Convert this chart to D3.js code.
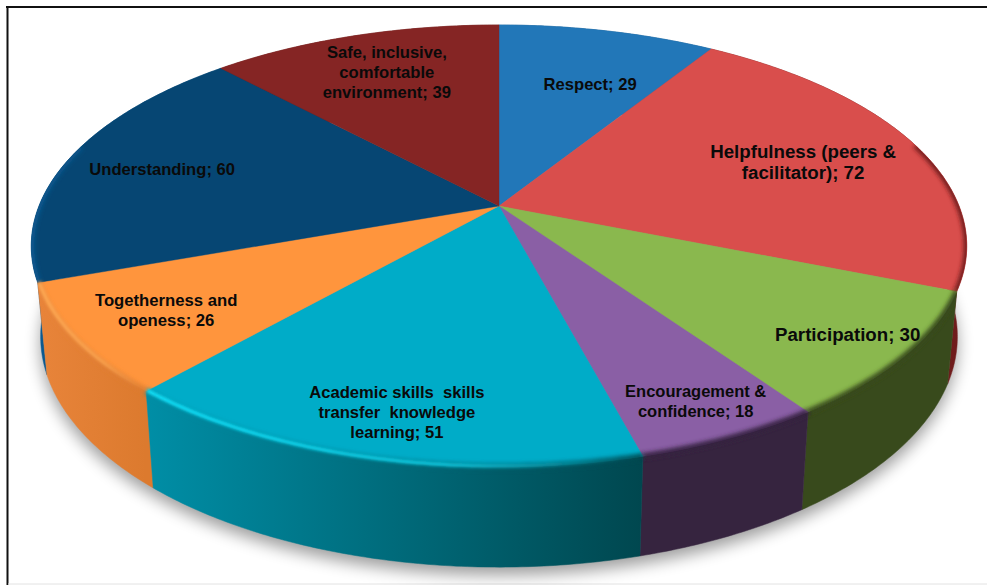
<!DOCTYPE html>
<html>
<head>
<meta charset="utf-8">
<script src="https://cdn.jsdelivr.net/npm/d3@7/dist/d3.min.js"></script>
<style>
  html, body { margin: 0; padding: 0; background: #fff; }
  svg { display: block; }
  text { font-family: "Liberation Sans", Arial, sans-serif; font-weight: 700; fill: #0a0a0a; }
</style>
</head>
<body>
<svg id="chart" width="987" height="585"></svg>
<script>
// Themes reported by participants, clockwise from twelve o'clock
const categories = ["Respect", "Helpfulness (peers & facilitator)", "Participation", "Encouragement & confidence",
  "Academic skills  skills transfer  knowledge learning", "Togetherness and openess", "Understanding",
  "Safe, inclusive, comfortable environment"];
const values = [29, 72, 30, 18, 51, 26, 60, 39];

// Wrapped label lines
const labelLines = [
  ["Respect; 29"],
  ["Helpfulness (peers &", "facilitator); 72"],
  ["Participation; 30"],
  ["Encouragement &", "confidence; 18"],
  ["Academic skills  skills", "transfer  knowledge", "learning; 51"],
  ["Togetherness and", "openess; 26"],
  ["Understanding; 60"],
  ["Safe, inclusive,", "comfortable", "environment; 39"]
];
const labelSizes = [16.6, 18.7, 18.7, 16.5, 16.6, 16.7, 16.6, 16.6];
// Label centres in disc coordinates (-1..1 across the pie, before perspective)
const labelDiskU = [0.221, 0.687, 0.684, 0.367, -0.189, -0.665, -0.756, -0.275];
const labelDiskV = [-0.637, -0.216, 0.540, 0.783, 0.821, 0.447, -0.179, -0.707];

// Slice styling
const faceColors = ["#2277b8", "#d94e4c", "#8ab84e", "#8a5fa5", "#00acc8", "#ff953d", "#064673", "#852524"];
const wallLeft   = ["#1a5c90", "#7e2020", "#384a1c", "#36243f", "#008ea6", "#e8843a", "#0a5a92", "#6a1c1c"];
const wallRight  = ["#1a5c90", "#6f1c1c", "#384a1c", "#36243f", "#00474f", "#dc7a2e", "#064673", "#6a1c1c"];
const glowColors = [null, null, null, null, "#12e6ff", "#ffab55", null, null];

// Perspective of the disc: disc coordinates to screen
const cx = 499, cy = 206, halfW = 460, halfH = 213.8, tilt = 0.181;
const top3d = (u, v) => {
  const w = 1 - tilt * v;
  return [cx + halfW * u / w, cy + halfH * v / w];
};
// The lower rim is the same outline pushed down and narrowed slightly
const lowerX = d3.scaleLinear().domain([cx - 1, cx + 1]).range([cx - 0.98, cx + 0.98]);
const lowerY = d3.scaleLinear().domain([0, 585]).range([80, 80 + 585 * 1.043]);
const rimPoint = (a, r = 1) => top3d(r * Math.sin(a), -r * Math.cos(a));
const lowerPoint = a => { const p = rimPoint(a); return [lowerX(p[0]), lowerY(p[1])]; };

const arcs = d3.pie().sort(null).value(d => d)(values);
const samples = (a0, a1) => {
  const n = Math.max(2, Math.ceil((a1 - a0) / 0.01));
  return d3.range(n + 1).map(i => a0 + (a1 - a0) * i / n);
};
const line = d3.line();

const svg = d3.select("#chart");
const defs = svg.append("defs");

const blur = (id, s) => defs.append("filter").attr("id", id)
  .attr("filterUnits", "userSpaceOnUse").attr("x", 0).attr("y", 0).attr("width", 987).attr("height", 585)
  .append("feGaussianBlur").attr("stdDeviation", s);
blur("soft-shadow", 8);
blur("soft-edge", 2.2);
blur("soft-glow", 1.4);

// Outer frame of the figure: left and top rules, faint base rule
svg.append("line").attr("x1", 7.5).attr("x2", 7.5).attr("y1", 6).attr("y2", 585).attr("stroke", "#111").attr("stroke-width", 2);
svg.append("line").attr("x1", 6).attr("x2", 987).attr("y1", 7).attr("y2", 7).attr("stroke", "#111").attr("stroke-width", 2);
svg.append("line").attr("x1", 8).attr("x2", 987).attr("y1", 584).attr("y2", 584).attr("stroke", "#e2e2e2").attr("stroke-width", 1);

// Cast shadow under the lower rim
const fullCircle = samples(0, 2 * Math.PI);
svg.append("path")
  .attr("d", line(fullCircle.map(lowerPoint)) + "Z")
  .attr("transform", "translate(0,8)")
  .attr("fill", "#000").attr("opacity", 0.38)
  .attr("filter", "url(#soft-shadow)");

const wallPath = d => {
  const s = samples(d.startAngle, d.endAngle);
  return line(s.map(a => rimPoint(a)).concat(s.slice().reverse().map(lowerPoint))) + "Z";
};
const facePath = d => line([[cx, cy]].concat(samples(d.startAngle, d.endAngle).map(a => rimPoint(a)))) + "Z";

// Everything on the rim stays inside the solid's silhouette
const clip = defs.append("clipPath").attr("id", "solid");
arcs.forEach(d => {
  clip.append("path").attr("d", wallPath(d));
  clip.append("path").attr("d", facePath(d));
});

// Horizontal shading of each wall
arcs.forEach((d, i) => {
  const xs = samples(d.startAngle, d.endAngle).map(a => rimPoint(a)[0]);
  const g = defs.append("linearGradient").attr("id", "wall-" + i)
    .attr("gradientUnits", "userSpaceOnUse")
    .attr("x1", d3.min(xs)).attr("x2", d3.max(xs)).attr("y1", 0).attr("y2", 0);
  g.append("stop").attr("offset", 0).attr("stop-color", wallLeft[i]);
  g.append("stop").attr("offset", 1).attr("stop-color", wallRight[i]);
  if (glowColors[i]) {
    const h = defs.append("linearGradient").attr("id", "glow-" + i)
      .attr("gradientUnits", "userSpaceOnUse")
      .attr("x1", d3.min(xs)).attr("x2", d3.max(xs)).attr("y1", 0).attr("y2", 0);
    h.append("stop").attr("offset", 0).attr("stop-color", glowColors[i]).attr("stop-opacity", 1);
    h.append("stop").attr("offset", 0.6).attr("stop-color", glowColors[i]).attr("stop-opacity", 0.75);
    h.append("stop").attr("offset", 1).attr("stop-color", glowColors[i]).attr("stop-opacity", 0);
  }
});

// Walls, back of the pie first so nearer ones overlap
const byDepth = arcs.map((d, i) => ({ d, i }))
  .sort((p, q) => Math.sin((p.d.startAngle + p.d.endAngle) / 2 - Math.PI / 2) - Math.sin((q.d.startAngle + q.d.endAngle) / 2 - Math.PI / 2));
svg.append("g").selectAll("path").data(byDepth).join("path")
  .attr("d", p => wallPath(p.d))
  .attr("fill", p => `url(#wall-${p.i})`)
  .attr("stroke", p => `url(#wall-${p.i})`).attr("stroke-width", 0.5);

// Top faces
svg.append("g").selectAll("path").data(arcs).join("path")
  .attr("d", facePath)
  .attr("fill", (d, i) => faceColors[i])
  .attr("stroke", (d, i) => faceColors[i]).attr("stroke-width", 0.4);

// Bevel along the front rim
const bevel = svg.append("g").attr("clip-path", "url(#solid)");
const frontAngles = d => samples(d.startAngle, d.endAngle).filter(a => -Math.cos(a) > -0.3);
arcs.forEach((d, i) => {
  const s = frontAngles(d);
  if (s.length < 2) return;
  bevel.append("path")
    .attr("d", line(s.map(a => rimPoint(a, 1))))
    .attr("fill", "none")
    .attr("stroke", `url(#wall-${i})`).attr("stroke-width", 6)
    .attr("filter", "url(#soft-edge)");
});
arcs.forEach((d, i) => {
  if (!glowColors[i]) return;
  bevel.append("path")
    .attr("d", line(frontAngles(d).map(a => rimPoint(a, 0.997))))
    .attr("fill", "none")
    .attr("stroke", `url(#glow-${i})`).attr("stroke-width", 3.5)
    .attr("filter", "url(#soft-glow)");
});

// Slice labels
const labels = svg.append("g").attr("text-anchor", "middle");
labelLines.forEach((lines, i) => {
  const [x, y] = top3d(labelDiskU[i], labelDiskV[i]);
  const lh = labelSizes[i] < 18 ? 20 : 21;
  const t = labels.append("text").attr("font-size", labelSizes[i]).style("white-space", "pre");
  lines.forEach((txt, k) => {
    t.append("tspan").attr("x", x)
      .attr("y", y + (k - (lines.length - 1) / 2) * lh + labelSizes[i] * 0.35)
      .text(txt);
  });
});
</script>
</body>
</html>
